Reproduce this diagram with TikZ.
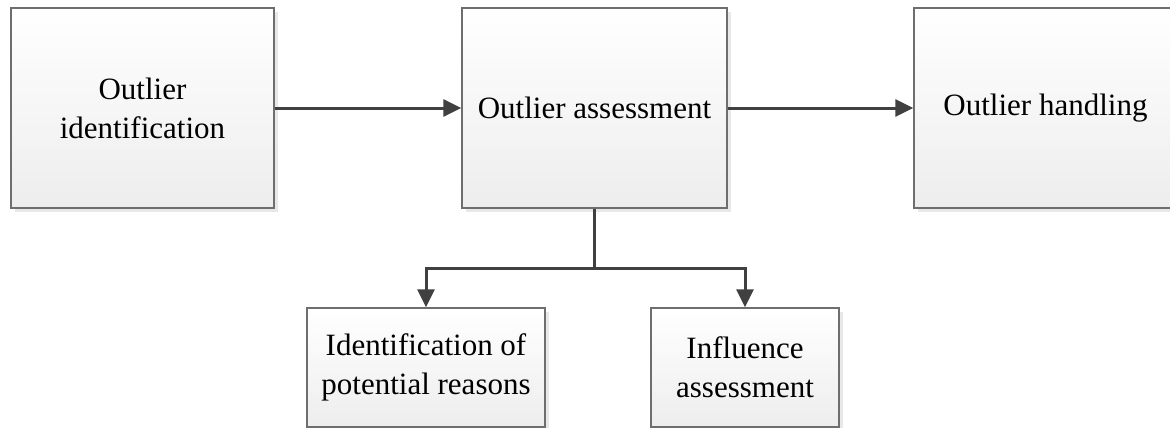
\documentclass[tikz,border=0pt]{standalone}
\usepackage{fontspec}
\setmainfont{Liberation Serif}
\usetikzlibrary{arrows.meta,shadows}
\definecolor{edgegray}{HTML}{6E6E6E}
\definecolor{linkgray}{HTML}{404040}
\tikzset{
  procbox/.style={
    draw=edgegray, line width=1.3pt,
    top color=white, bottom color=black!7,
    drop shadow={shadow xshift=4pt, shadow yshift=-4pt, fill=black!9, opacity=1},
    align=center, inner sep=0pt,
    font=\fontsize{31}{39}\selectfont
  },
  link/.style={draw=linkgray, line width=3pt,
    -{Triangle[length=18pt,width=17pt]}},
  plainlink/.style={draw=linkgray, line width=3pt}
}
\begin{document}
\begin{tikzpicture}[x=1pt,y=-1pt]
  \clip (0,0) rectangle (1170,428);
  \fill[white] (0,0) rectangle (1170,428);

  % main flow
  \node[procbox, minimum width=263pt, minimum height=200pt] (ident) at (142.5,108)
    {Outlier\\identification};
  \node[procbox, minimum width=265pt, minimum height=200pt] (assess) at (594.5,108)
    {Outlier assessment};
  \node[procbox, minimum width=263pt, minimum height=200pt] (handle) at (1045.5,108)
    {Outlier handling};

  % sub-steps of the assessment
  \node[procbox, minimum width=238pt, minimum height=119pt] (reasons) at (426,367.5)
    {Identification of\\potential reasons};
  \node[procbox, minimum width=188pt, minimum height=119pt] (influence) at (745,367.5)
    {Influence\\assessment};

  % connectors
  \draw[link] (ident.east) -- (assess.west);
  \draw[link] (assess.east) -- (handle.west);
  \coordinate (split) at (594.5,268);
  \draw[plainlink] (assess.south) -- (split);
  \draw[link] (split) -| (reasons.north);
  \draw[link] (split) -| (influence.north);
\end{tikzpicture}
\end{document}
